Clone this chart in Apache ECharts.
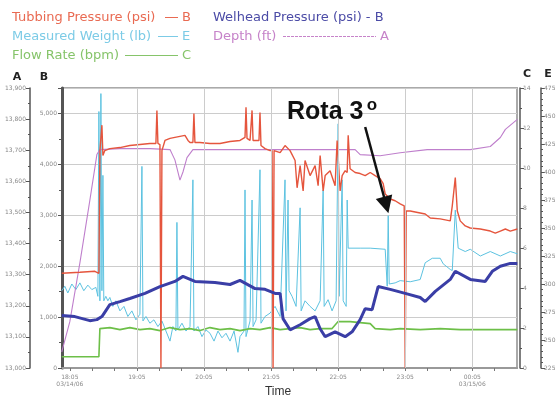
<!DOCTYPE html>
<html><head><meta charset="utf-8">
<script src="https://cdn.jsdelivr.net/npm/echarts@6/dist/echarts.min.js"></script>
<style>html,body{margin:0;padding:0;background:#fff}#c{width:559px;height:401px}</style>
</head><body><div id="c"></div>
<script>
// time values: minutes after 17:00
const tubingT = [57.8,74,87.4,91,91.9,93.7,94.6,96.3,100.8,109.8,118.7,127.7,136.6,142,142.9,143.8,145.6,146.5,147.4,150.1,154.6,159,163.5,168,170.7,172.5,175.1,176,176.9,181.4,190.4,199.3,208.3,217.2,221.7,222.6,223.5,226.2,228,228.9,234.2,235.1,236,239.6,244.1,245.9,246.8,247.7,253.1,257.5,262,266.5,268.3,271,273.7,275.4,279.9,284.4,287.1,288.9,291.6,293.4,297.8,302.3,304.1,306.8,308.6,311.3,313.1,314,315.7,320.2,324.7,329.2,333.7,338.1,342.6,345.3,347.1,351.6,356,360.5,364.1,365,365.9,369.5,378.4,382.9,387.4,396.3,405.3,407.1,409.8,411.6,414.2,418.7,423.2,432.2,441.1,445.6,450.1,454.6,459,465.3];
const tubingP = [1860,1880,1900,1860,4270,4770,4175,4270,4310,4330,4370,4390,4410,4410,5060,4410,4390,0,4270,4470,4510,4530,4550,4570,4470,4430,4430,5000,4430,4430,4410,4410,4450,4470,4530,5120,4510,4470,5060,4470,4470,5020,4370,4310,4270,4270,0,4270,4230,4370,4270,4075,3540,3975,3480,4075,3780,3975,3580,4175,3480,3780,3875,3580,4470,3480,3780,3875,3840,4570,3915,3840,3820,3780,3840,3780,3720,3620,3420,3320,3285,3225,3185,0,3085,3085,3045,3025,2945,2930,2890,3185,3740,3085,2890,2790,2750,2730,2690,2650,2690,2730,2690,2730];

const wellT = [57.8,69.5,82.9,89.2,93.7,100.8,109.8,118.7,132.2,145.6,159,166.2,176.9,194.8,208.3,217.2,230.7,239.6,248.6,253.1,255.7,262,271,279.9,284.4,288.9,293.4,302.3,311.3,317.5,324.7,329.2,335.4,340.8,351.6,365,378.4,382.9,391.9,405.3,409.8,423.2,436.6,442.9,450.1,459,465.3];
const wellP = [1030,1010,930,950,1010,1245,1305,1365,1465,1600,1700,1800,1700,1680,1640,1720,1560,1545,1465,1465,970,750,850,970,1010,770,615,710,615,710,950,1165,1145,1600,1545,1465,1385,1305,1505,1740,1900,1740,1700,1900,2000,2055,2055];

const flowT = [57.8,91,91.9,100.8,109.8,118.7,127.7,136.6,145.6,154.6,163.5,172.5,181.4,190.4,199.3,208.3,217.2,226.2,235.1,244.1,253.1,262,271,279.9,288.9,299.6,305,315.7,324.7,333.7,338.1,351.6,360.5,378.4,396.3,414.2,432.2,450.1,465.3];
const flowR = [0.56,0.56,1.97,2.02,1.92,2.02,1.92,1.97,1.87,2.02,1.92,1.97,1.87,2.02,1.92,1.97,1.87,1.97,1.92,2.02,1.92,1.97,2.02,1.92,1.97,1.97,2.32,2.32,2.27,2.22,1.97,1.92,1.97,1.92,1.97,1.92,1.92,1.92,1.92];

const depthT = [57.8,65,74,82.9,89.2,91.9,109.8,136.6,154.6,159,163.5,166.2,169.8,175.1,226.2,271,320.2,324.7,342.6,360.5,384.7,423.2,441.1,450.1,454.6,465.3];
const depthA = [13052,13149,13338,13539,13686,13702,13705,13705,13702,13669,13604,13630,13676,13702,13702,13702,13702,13686,13682,13692,13702,13702,13712,13741,13767,13799];

const weightT = [57.8,60.5,63.2,66.8,70.4,74,77.5,81.1,84.7,88.3,90.1,91,91.9,92.8,93.7,94.6,95.4,97.2,99,100.8,103.5,106.2,109.8,113.4,116.9,120.5,124.1,127.7,129.5,130.4,133.1,136.6,140.2,143.8,147.4,151,154.6,157.2,159.9,160.8,161.7,165.3,168.9,172.5,175.1,176,179.6,183.2,186.8,190.4,194,197.5,201.1,204.7,208.3,211.9,215.4,217.2,220.8,221.7,222.6,226.2,228,228.9,231.6,235.1,236,239.6,244.1,248.6,253.1,257.5,258.4,260.2,261.1,263.8,267.4,271,271.9,275.4,279.9,284.4,288.9,291.6,292.5,296,299.6,303.2,305,305.9,308.6,309.5,312.2,313.1,314,324.7,333.7,347.1,348.9,349.8,350.7,356,360.5,369.5,378.4,382.9,389.2,396.3,399,405.3,407.1,409.8,412.4,418.7,423.2,432.2,441.1,450.1,459,465.3];
const weightE = [294,298,292,300,295,301,294,299,295,297,289,454,285,470,294,397,285,289,285,288,280,285,276,280,271,276,268,273,405,267,271,265,268,262,267,258,249,262,258,355,259,265,258,262,393,258,262,253,259,256,249,258,252,256,249,258,239,253,258,384,253,267,375,262,268,402,265,271,274,280,271,393,276,375,294,289,280,368,276,285,280,276,285,384,280,286,276,285,443,289,393,285,280,375,332,332,332,331,298,361,300,301,303,302,304,319,323,323,318,313,312,366,332,329,331,325,329,325,329,327];

const timeTickVals = [65,125,185,245,305,365,425];
const timeTickLabels = ['18:05\n03/14/06','19:05','20:05','21:05','22:05','23:05','00:05\n03/15/06'];
const timeMinorVals = [65,85,105,125,145,165,185,205,225,245,265,285,305,325,345,365,385,405,425,445];
const gridTimes = [125,185,245,305,365,425];
const arrowFrom = [329.2, 4734];
const arrowTo = [348, 3202];

const zip = (a, b) => a.map((v, i) => [v, b[i]]);
const chart = echarts.init(document.getElementById('c'), null, {renderer: 'canvas'});
const lblStyle = {fontSize: 6, color: '#888', fontFamily: 'DejaVu Sans'};
const lineCommon = {type: 'line', showSymbol: false, symbol: 'none', animation: false};

chart.setOption({
  animation: false,
  backgroundColor: '#fff',
  grid: {left: 62, right: 42, top: 88, bottom: 33, show: true, borderColor: '#aaa', borderWidth: 2, backgroundColor: '#fff'},
  xAxis: {
    type: 'value', min: 58, max: 465,
    axisLine: {show: true, onZero: false, lineStyle: {color: '#999', width: 2}},
    axisTick: {show: true, customValues: timeMinorVals, length: 3, lineStyle: {color: '#777'}},
    axisLabel: Object.assign({customValues: timeTickVals, margin: 6, lineHeight: 7,
      formatter: v => { const i = timeTickVals.indexOf(v); return i >= 0 ? timeTickLabels[i] : ''; }}, lblStyle),
    splitLine: {show: false}
  },
  yAxis: [
    {type: 'value', position: 'left', min: 0, max: 5500, interval: 1000,
     axisLine: {show: true, lineStyle: {color: '#555', width: 3}},
     axisTick: {show: true, length: 4, lineStyle: {color: '#555'}},
     minorTick: {show: true, splitNumber: 2, length: 3, lineStyle: {color: '#555'}},
     axisLabel: Object.assign({margin: 5, showMaxLabel: false}, lblStyle),
     splitLine: {show: true, lineStyle: {color: '#ccc', width: 1}}},
    {type: 'value', position: 'left', offset: 32, min: 13000, max: 13900, interval: 100,
     axisLine: {show: true, lineStyle: {color: '#555', width: 1.5}},
     axisTick: {show: true, length: 4, lineStyle: {color: '#555'}},
     minorTick: {show: true, splitNumber: 2, length: 2, lineStyle: {color: '#555'}},
     axisLabel: Object.assign({margin: 4}, lblStyle),
     splitLine: {show: false}},
    {type: 'value', position: 'right', offset: 3, min: 0, max: 14, interval: 2,
     axisLine: {show: true, lineStyle: {color: '#555', width: 1.5}},
     axisTick: {show: true, length: 4, lineStyle: {color: '#555'}},
     minorTick: {show: true, splitNumber: 2, length: 2, lineStyle: {color: '#555'}},
     axisLabel: Object.assign({margin: 3}, lblStyle),
     splitLine: {show: false}},
    {type: 'value', position: 'right', offset: 24, min: 225, max: 475, interval: 25,
     axisLine: {show: true, lineStyle: {color: '#555', width: 1.5}},
     axisTick: {show: true, length: 4, lineStyle: {color: '#555'}},
     minorTick: {show: true, splitNumber: 5, length: 2, lineStyle: {color: '#555'}},
     axisLabel: Object.assign({margin: 3}, lblStyle),
     splitLine: {show: false}}
  ],
  series: [
    Object.assign({}, lineCommon, {name: 'grid', yAxisIndex: 0, data: [], z: 1,
      markLine: {silent: true, symbol: ['none', 'none'], label: {show: false},
        lineStyle: {color: '#ccc', width: 1, type: 'solid'},
        data: gridTimes.map(t => ({xAxis: t}))}}),
    Object.assign({}, lineCommon, {name: 'Measured Weight', yAxisIndex: 3, z: 2,
      data: zip(weightT, weightE), lineStyle: {color: '#5cc2e0', width: 1}}),
    Object.assign({}, lineCommon, {name: 'Flow Rate', yAxisIndex: 2, z: 3,
      data: zip(flowT, flowR), lineStyle: {color: '#6dbf48', width: 1.6}}),
    Object.assign({}, lineCommon, {name: 'Depth', yAxisIndex: 1, z: 3,
      data: zip(depthT, depthA), lineStyle: {color: '#bf7fcc', width: 1.1}}),
    Object.assign({}, lineCommon, {name: 'Tubbing Pressure', yAxisIndex: 0, z: 4,
      data: zip(tubingT, tubingP), lineStyle: {color: '#e5553d', width: 1.4}}),
    Object.assign({}, lineCommon, {name: 'Welhead Pressure', yAxisIndex: 0, z: 5,
      data: zip(wellT, wellP), lineStyle: {color: '#3a3ea6', width: 3}}),
    Object.assign({}, lineCommon, {name: 'arrow', yAxisIndex: 0, data: [], z: 10,
      markLine: {silent: true, symbol: ['none', 'triangle'], symbolSize: 17, label: {show: false},
        itemStyle: {color: '#111'},
        lineStyle: {color: '#111', width: 2.5, type: 'solid'},
        data: [[{coord: arrowFrom}, {coord: arrowTo}]]}})
  ],
  graphic: [
    {type: 'text', x: 12, y: 17.5, style: {text: 'Tubbing Pressure (psi)', fill: '#e96a52', font: '13px "DejaVu Sans"', verticalAlign: 'middle'}},
    {type: 'line', shape: {x1: 165, y1: 17.5, x2: 178, y2: 17.5}, style: {stroke: '#e96a52', lineWidth: 1}},
    {type: 'text', x: 182, y: 17.5, style: {text: 'B', fill: '#e96a52', font: '13px "DejaVu Sans"', verticalAlign: 'middle'}},

    {type: 'text', x: 12, y: 36.5, style: {text: 'Measured Weight (lb)', fill: '#7ccbe6', font: '13px "DejaVu Sans"', verticalAlign: 'middle'}},
    {type: 'line', shape: {x1: 158, y1: 36.5, x2: 178, y2: 36.5}, style: {stroke: '#7ccbe6', lineWidth: 1}},
    {type: 'text', x: 182, y: 36.5, style: {text: 'E', fill: '#7ccbe6', font: '13px "DejaVu Sans"', verticalAlign: 'middle'}},

    {type: 'text', x: 12, y: 55.5, style: {text: 'Flow Rate (bpm)', fill: '#86c46a', font: '13px "DejaVu Sans"', verticalAlign: 'middle'}},
    {type: 'line', shape: {x1: 125, y1: 55.5, x2: 178, y2: 55.5}, style: {stroke: '#86c46a', lineWidth: 1}},
    {type: 'text', x: 182, y: 55.5, style: {text: 'C', fill: '#86c46a', font: '13px "DejaVu Sans"', verticalAlign: 'middle'}},

    {type: 'text', x: 213, y: 17.5, style: {text: 'Welhead Pressure (psi) - B', fill: '#4b4ba6', font: '13px "DejaVu Sans"', verticalAlign: 'middle'}},
    {type: 'text', x: 213, y: 36.5, style: {text: 'Depth (ft)', fill: '#c683c9', font: '13px "DejaVu Sans"', verticalAlign: 'middle'}},
    {type: 'line', shape: {x1: 283, y1: 36.5, x2: 376, y2: 36.5}, style: {stroke: '#c683c9', lineWidth: 1, lineDash: [3, 1]}},
    {type: 'text', x: 380, y: 36.5, style: {text: 'A', fill: '#c683c9', font: '13px "DejaVu Sans"', verticalAlign: 'middle'}},

    {type: 'text', x: 17, y: 77, style: {text: 'A', fill: '#222', font: 'bold 11px "DejaVu Sans"', align: 'center', verticalAlign: 'middle'}},
    {type: 'text', x: 44, y: 77, style: {text: 'B', fill: '#222', font: 'bold 11px "DejaVu Sans"', align: 'center', verticalAlign: 'middle'}},
    {type: 'text', x: 527, y: 74, style: {text: 'C', fill: '#222', font: 'bold 11px "DejaVu Sans"', align: 'center', verticalAlign: 'middle'}},
    {type: 'text', x: 548, y: 74, style: {text: 'E', fill: '#222', font: 'bold 11px "DejaVu Sans"', align: 'center', verticalAlign: 'middle'}},

    {type: 'text', x: 278, y: 392, style: {text: 'Time', fill: '#333', font: '12px "Liberation Sans"', align: 'center', verticalAlign: 'middle'}},

    {type: 'text', x: 287, y: 112, z: 100, style: {text: 'Rota 3', fill: '#111', font: 'bold 25px "Liberation Sans"', verticalAlign: 'middle'}},
    {type: 'text', x: 372, y: 105, z: 100, style: {text: 'o', fill: '#111', font: 'bold 17px "Liberation Sans"', align: 'center', verticalAlign: 'middle'}}
  ]
});
</script>
</body></html>
